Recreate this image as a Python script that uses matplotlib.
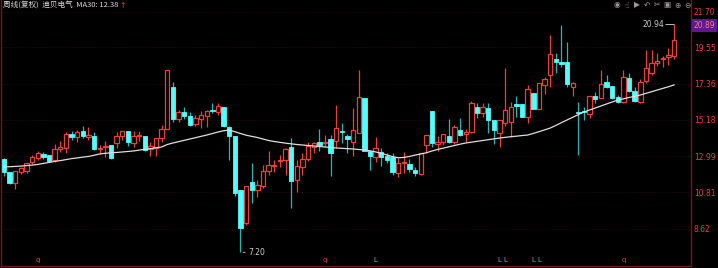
import matplotlib.pyplot as plt
import matplotlib.transforms as mtransforms
import numpy as np

plt.rcParams['font.family'] = ['Noto Sans CJK SC', 'DejaVu Sans']

# weekly candles
opens = [12.83, 12.04, 11.38, 12.04, 12.10, 12.65, 12.89, 13.13, 13.07, 12.77,
         13.43, 13.49, 14.33, 14.15, 14.51, 14.15, 14.21, 13.43, 13.55, 13.67,
         13.79, 14.21, 14.51, 13.79, 14.21, 14.21, 13.43, 13.49, 14.09, 14.63,
         17.16, 15.24, 15.66, 15.42, 14.94, 15.24, 15.42, 15.78, 15.66, 15.96,
         14.75, 14.21, 10.96, 8.97, 11.44, 10.96, 11.20, 12.10, 12.41, 12.71,
         12.77, 13.55, 11.56, 12.35, 12.83, 13.55, 13.85, 13.79, 14.03, 13.91,
         14.51, 14.21, 13.85, 14.39, 16.50, 13.31, 12.95, 13.25, 13.01, 12.95,
         11.98, 12.59, 12.53, 12.16, 11.92, 13.67, 15.72, 13.73, 13.85, 14.21,
         13.85, 14.57, 14.33, 14.45, 15.96, 15.60, 15.90, 15.18, 14.39, 15.00,
         15.06, 16.14, 16.14, 15.36, 16.80, 15.84, 17.29, 17.89, 18.85, 18.67,
         18.67, 17.16, 15.66, 15.72, 15.54, 16.62, 16.50, 17.47, 17.22, 16.56,
         16.26, 17.71, 16.92, 16.26, 17.53, 18.01, 18.61, 18.85, 18.97, 19.03]
highs = [12.89, 12.04, 12.10, 12.35, 12.59, 13.07, 13.31, 13.25, 13.07, 13.73,
         13.91, 14.45, 14.51, 14.57, 14.82, 14.75, 14.45, 13.67, 13.91, 13.67,
         14.45, 14.51, 14.51, 14.51, 14.51, 14.21, 13.85, 14.09, 14.88, 18.19,
         17.47, 15.78, 15.96, 15.66, 15.48, 15.72, 15.78, 16.20, 16.20, 15.96,
         14.82, 14.21, 10.96, 11.20, 12.59, 11.56, 12.47, 13.31, 12.77, 13.07,
         13.49, 14.09, 12.77, 13.19, 13.85, 13.85, 14.63, 14.27, 14.27, 16.08,
         15.00, 14.33, 15.90, 18.19, 16.50, 13.31, 14.15, 13.49, 13.19, 13.19,
         12.89, 13.25, 12.83, 12.35, 13.19, 14.27, 15.72, 14.21, 14.33, 15.24,
         14.88, 15.30, 14.63, 16.32, 16.20, 16.20, 16.20, 15.18, 15.18, 18.31,
         16.26, 16.62, 16.14, 17.29, 16.80, 17.41, 17.77, 20.30, 19.21, 20.90,
         19.88, 17.47, 16.26, 15.96, 16.62, 16.86, 18.19, 17.89, 17.22, 16.68,
         18.19, 18.01, 17.16, 17.65, 19.39, 19.39, 19.21, 19.03, 19.51, 20.94]
lows = [11.80, 11.32, 11.02, 11.92, 11.98, 12.53, 12.77, 12.83, 12.65, 12.65,
        13.25, 13.19, 13.97, 13.85, 14.09, 13.97, 13.37, 13.13, 12.95, 12.83,
        13.49, 13.97, 13.61, 13.55, 13.91, 13.31, 13.01, 13.01, 13.85, 14.63,
        15.06, 15.06, 15.24, 14.82, 14.82, 14.69, 14.75, 15.60, 15.48, 14.75,
        12.77, 10.60, 7.20, 8.85, 10.18, 10.54, 11.08, 11.86, 12.04, 12.35,
        11.86, 9.88, 10.84, 11.86, 12.71, 13.19, 13.31, 13.55, 11.80, 13.49,
        13.79, 13.19, 13.01, 14.39, 13.31, 12.16, 12.65, 12.41, 12.59, 11.86,
        11.74, 11.98, 12.04, 11.80, 11.86, 13.19, 13.55, 13.31, 13.67, 13.79,
        13.73, 14.21, 13.85, 14.39, 15.30, 15.36, 14.39, 13.73, 13.55, 14.82,
        14.15, 15.36, 15.36, 15.00, 15.84, 15.84, 16.74, 17.16, 18.01, 18.37,
        17.16, 16.62, 13.07, 15.18, 15.30, 16.20, 16.50, 17.10, 16.44, 16.20,
        16.20, 16.86, 16.26, 16.20, 17.41, 17.89, 18.43, 18.37, 18.49, 18.85]
closes = [12.04, 11.38, 12.10, 12.28, 12.59, 12.95, 13.19, 12.95, 12.71, 13.43,
          13.55, 14.33, 14.15, 14.45, 14.21, 14.27, 13.43, 13.49, 13.61, 12.89,
          14.21, 14.51, 13.85, 14.21, 14.27, 13.37, 13.61, 14.09, 14.63, 18.19,
          15.24, 15.66, 15.42, 14.88, 15.30, 15.48, 15.72, 15.72, 16.02, 14.82,
          14.21, 10.78, 8.67, 11.20, 10.96, 11.26, 12.10, 12.47, 12.47, 12.77,
          13.43, 11.50, 12.41, 12.83, 13.61, 13.79, 13.67, 13.85, 13.19, 14.69,
          14.45, 14.03, 14.57, 16.56, 13.31, 13.01, 13.49, 12.95, 12.77, 12.04,
          12.59, 12.65, 12.22, 11.98, 13.19, 14.27, 13.79, 13.85, 14.33, 13.85,
          14.75, 14.27, 14.45, 16.20, 15.60, 15.96, 15.18, 14.57, 15.18, 15.78,
          15.96, 16.02, 15.36, 17.04, 15.84, 17.41, 17.65, 19.15, 18.67, 18.55,
          17.35, 17.41, 15.60, 15.66, 16.62, 16.44, 17.35, 17.16, 16.50, 16.26,
          17.77, 16.92, 16.32, 17.47, 18.31, 18.61, 18.73, 18.91, 19.09, 20.00]
ma30 = [12.35, 12.36, 12.38, 12.40, 12.43, 12.46, 12.50, 12.56, 12.62, 12.68,
        12.73, 12.79, 12.85, 12.89, 12.94, 12.98, 13.05, 13.13, 13.17, 13.20,
        13.22, 13.25, 13.28, 13.31, 13.36, 13.41, 13.45, 13.50, 13.55, 13.70,
        13.79, 13.87, 13.95, 14.03, 14.11, 14.19, 14.27, 14.36, 14.45, 14.53,
        14.57, 14.47, 14.36, 14.26, 14.19, 14.12, 14.03, 13.94, 13.88, 13.83,
        13.78, 13.74, 13.70, 13.67, 13.64, 13.61, 13.58, 13.55, 13.52, 13.49,
        13.47, 13.45, 13.43, 13.40, 13.37, 13.32, 13.25, 13.17, 13.07, 12.97,
        12.90, 12.92, 12.98, 13.06, 13.13, 13.20, 13.31, 13.40, 13.48, 13.56,
        13.64, 13.72, 13.79, 13.84, 13.89, 13.94, 13.99, 14.04, 14.09, 14.13,
        14.17, 14.20, 14.24, 14.27, 14.37, 14.47, 14.58, 14.69, 14.85, 15.02,
        15.18, 15.34, 15.50, 15.66, 15.78, 15.90, 16.02, 16.14, 16.26, 16.38,
        16.45, 16.53, 16.60, 16.68, 16.78, 16.88, 16.98, 17.08, 17.18, 17.29]

price_ticks = [21.70, 19.55, 17.36, 15.18, 12.99, 10.81, 8.62]
last_price = 20.89
ma30_label = 12.38
q_marks = [6, 57, 110]
l_marks = [66, 88, 89, 94, 95]

UP = '#e8403a'
DOWN = '#54fcfc'
DOWN_WICK = '#2cb4b4'
AXIS = '#7a1414'

o = np.array(opens)
h = np.array(highs)
l = np.array(lows)
c = np.array(closes)
x = np.arange(len(o))
up = c >= o

fig = plt.figure(figsize=(7.18, 2.68), dpi=100, facecolor='black')
ax = fig.add_axes([1 / 718, 2 / 268, 690 / 718, 266 / 268], facecolor='black')

# grid at the price levels
ax.hlines(price_ticks, -1, len(o) + 5, colors='#3a0d0d', linestyles=(0, (1, 2)),
          lw=0.6, zorder=0)

ax.vlines(x[up], l[up], h[up], color=UP, lw=0.9, zorder=2)
ax.vlines(x[~up], l[~up], h[~up], color=DOWN_WICK, lw=0.9, zorder=2)
body = np.maximum(np.abs(c - o), 0.015)
bottom = np.minimum(o, c)
ax.bar(x[up], body[up], bottom=bottom[up], width=0.78, facecolor='black',
       edgecolor=UP, lw=0.9, zorder=3)
ax.bar(x[~up], body[~up], bottom=bottom[~up], width=0.78, facecolor=DOWN,
       edgecolor=DOWN, lw=0.6, zorder=3)

ax.plot(x, ma30, color='#dedede', lw=0.9, zorder=4)

# high / low markers
hi = int(np.argmax(h))
lo = int(np.argmin(l))
ax.hlines(h[hi], hi - 1.6, hi, color='#bbbbbb', lw=0.7, zorder=5)
ax.text(hi - 1.7, h[hi], f'{h[hi]:.2f}', color='#cccccc', fontsize=5.5,
        ha='right', va='center', family='DejaVu Sans')
ax.annotate('', xy=(lo, l[lo]), xytext=(lo + 1.3, l[lo]),
            arrowprops=dict(arrowstyle='-', color='#bbbbbb', lw=0.7))
ax.text(lo + 1.4, l[lo], f'{l[lo]:.2f}', color='#cccccc', fontsize=5.5,
        ha='left', va='center', family='DejaVu Sans')

ax.set_xlim(-0.53, 122.0)
ax.set_ylim(6.38, 22.405)

# event markers along the bottom
for i in q_marks:
    ax.text(i, 6.75, 'q', color=UP, fontsize=5, ha='center', va='center',
            family='DejaVu Sans')
for i in l_marks:
    ax.text(i, 6.75, 'L', color='#3ac8d8', fontsize=5, ha='center', va='center',
            family='DejaVu Sans')

ax.yaxis.tick_right()
ax.set_yticks(price_ticks)
ax.set_yticklabels([f'{v:.2f}' for v in price_ticks], family='DejaVu Sans')
ax.tick_params(axis='y', length=0, pad=2, labelcolor=UP, labelsize=5.5)
ax.set_xticks([])
ax.spines['top'].set_visible(False)
for s in ['left', 'right', 'bottom']:
    ax.spines[s].set_color(AXIS)
    ax.spines[s].set_linewidth(1)

trans = mtransforms.blended_transform_factory(ax.transAxes, ax.transData)
ax.text(1.004, last_price, f'{last_price:.2f}', transform=trans, color='#ff7a7a',
        fontsize=5.5, ha='left', va='center', family='DejaVu Sans',
        bbox=dict(boxstyle='square,pad=0.25', facecolor='#5e1a8c', edgecolor='none'))

hdr = fig.text(3 / 718, 1 - 6 / 268, f'周线(复权)  迪贝电气  MA30: {ma30_label:.2f}',
               color='#d8d8d8', fontsize=5.5, ha='left', va='center')
fig.text(119 / 718, 1 - 6 / 268, '↑', color=UP, fontsize=5.5, ha='left', va='center',
         family='DejaVu Sans')

icons = ['◉', '☝', '▶', '↶', '✂', '▣', '⊕', '⊖']
for k, g in enumerate(icons):
    fig.text((617 + k * 10) / 718, 1 - 5 / 268, g, color='#9a9a9a', fontsize=5.5,
             ha='center', va='center', family='DejaVu Sans')

fig.savefig('out.png', dpi=100, facecolor='black')
